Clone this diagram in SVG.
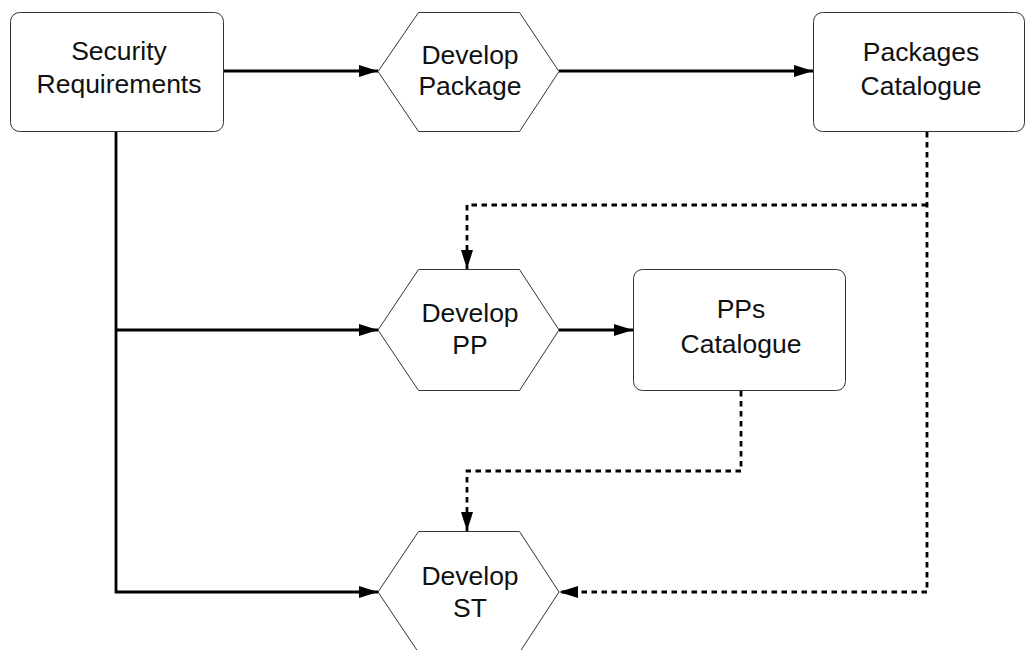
<svg xmlns="http://www.w3.org/2000/svg" width="1026" height="650" viewBox="0 0 1026 650">
  <style>
    .box { fill: #ffffff; stroke: #333333; stroke-width: 1; }
    .hex { fill: #ffffff; stroke: #333333; stroke-width: 1; }
    .label { font-family: "Liberation Sans", Arial, Helvetica, sans-serif; font-size: 26.5px; fill: #111111; text-anchor: middle; }
    .flow { fill: none; stroke: #000000; stroke-width: 2.8; marker-end: url(#arrow); }
    .dep { fill: none; stroke: #000000; stroke-width: 2.8; stroke-dasharray: 5.5 4.5; marker-end: url(#arrow); }
  </style>
  <defs>
    <marker id="arrow" markerUnits="userSpaceOnUse" markerWidth="19" markerHeight="12" refX="19" refY="6" orient="auto">
      <path d="M0,0 L19,6 L0,12 z" fill="#000000"/>
    </marker>
  </defs>
  <rect width="1026" height="650" fill="#ffffff"/>

  <g id="security-requirements">
    <rect class="box" x="10.5" y="12.5" width="213" height="119" rx="9" ry="9"/>
    <text class="label" x="119" y="60">Security</text>
    <text class="label" x="119" y="93">Requirements</text>
  </g>

  <g id="develop-package">
    <polygon class="hex" points="378,71.5 418.5,12.5 519.5,12.5 559,71.5 519.5,131.5 418.5,131.5"/>
    <text class="label" x="470" y="64">Develop</text>
    <text class="label" x="470" y="95">Package</text>
  </g>

  <g id="packages-catalogue">
    <rect class="box" x="813.5" y="12.5" width="211" height="119" rx="9" ry="9"/>
    <text class="label" x="921" y="61">Packages</text>
    <text class="label" x="921" y="95">Catalogue</text>
  </g>

  <g id="develop-pp">
    <polygon class="hex" points="378,330 418.5,269.5 519.5,269.5 559,330 519.5,390.5 418.5,390.5"/>
    <text class="label" x="470" y="322">Develop</text>
    <text class="label" x="470" y="354">PP</text>
  </g>

  <g id="pps-catalogue">
    <rect class="box" x="633.5" y="269.5" width="212" height="121" rx="9" ry="9"/>
    <text class="label" x="741" y="318">PPs</text>
    <text class="label" x="741" y="353">Catalogue</text>
  </g>

  <g id="develop-st">
    <polygon class="hex" points="378,592 418.5,531.5 519.5,531.5 559,592 519.5,652.5 418.5,652.5"/>
    <text class="label" x="470" y="585">Develop</text>
    <text class="label" x="470" y="617">ST</text>
  </g>

  <g id="connectors">
    <!-- solid flows -->
    <path class="flow" d="M224,71 H378"/>
    <path class="flow" d="M559,71 H813"/>
    <path class="flow" d="M116,132 V592 H378"/>
    <path class="flow" d="M116,330 H378"/>
    <path class="flow" d="M559,330 H633"/>
    <!-- dashed dependencies -->
    <path class="dep" d="M927,132 V592 H559"/>
    <path class="dep" d="M927,205 H467 V269"/>
    <path class="dep" d="M741,391 V471 H467 V531"/>
  </g>
</svg>
